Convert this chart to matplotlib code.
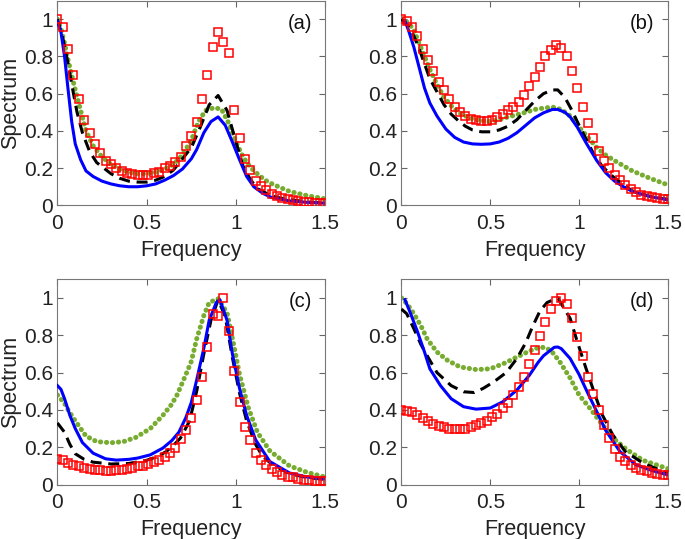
import numpy as np
import matplotlib
matplotlib.use("Agg")
import matplotlib.pyplot as plt

plt.rcParams["font.family"] = ["Liberation Sans", "DejaVu Sans"]

# squares are sampled every 0.03 from 0 to 1.5
freq_sq = np.linspace(0, 1.5, 51)

# ---- panel (a)
a_sq = [1.00, 0.96, 0.84, 0.70, 0.57, 0.46, 0.39, 0.33, 0.28, 0.24, 0.22, 0.20, 0.185,
        0.175, 0.17, 0.165, 0.165, 0.165, 0.175, 0.18, 0.20, 0.21, 0.235, 0.26, 0.32,
        0.37, 0.45, 0.57, 0.70, 0.85, 0.93, 0.88, 0.82, 0.51, 0.36, 0.25, 0.19, 0.13,
        0.105, 0.08, 0.06, 0.05, 0.04, 0.035, 0.03, 0.025, 0.02, 0.018, 0.015, 0.012, 0.01]
a_blue_f = [0.0, 0.02, 0.04, 0.06, 0.08, 0.10, 0.13, 0.16, 0.20, 0.25, 0.30, 0.35, 0.40,
            0.45, 0.50, 0.55, 0.60, 0.65, 0.70, 0.75, 0.78, 0.82, 0.86, 0.90, 0.94, 0.98,
            1.02, 1.06, 1.10, 1.15, 1.20, 1.30, 1.40, 1.50]
a_blue = [0.99, 0.93, 0.80, 0.62, 0.45, 0.33, 0.245, 0.185, 0.155, 0.13, 0.115, 0.105, 0.10,
          0.10, 0.105, 0.115, 0.135, 0.16, 0.195, 0.25, 0.30, 0.39, 0.45, 0.475, 0.43, 0.34,
          0.245, 0.155, 0.10, 0.065, 0.042, 0.024, 0.016, 0.012]
a_black_f = [0.0, 0.03, 0.06, 0.09, 0.11, 0.14, 0.18, 0.22, 0.26, 0.30, 0.35, 0.40, 0.45,
             0.50, 0.55, 0.60, 0.65, 0.70, 0.75, 0.80, 0.85, 0.90, 0.95, 1.00, 1.04, 1.08,
             1.12, 1.20, 1.27, 1.40, 1.50]
a_black = [1.00, 0.90, 0.76, 0.60, 0.50, 0.39, 0.29, 0.23, 0.20, 0.17, 0.145, 0.13, 0.125,
           0.125, 0.135, 0.155, 0.19, 0.25, 0.31, 0.42, 0.54, 0.59, 0.51, 0.34, 0.21, 0.14,
           0.09, 0.05, 0.035, 0.018, 0.012]
a_green_f = [0.0, 0.02, 0.04, 0.06, 0.08, 0.10, 0.13, 0.16, 0.20, 0.25, 0.30, 0.35, 0.40,
             0.45, 0.50, 0.55, 0.60, 0.65, 0.70, 0.75, 0.79, 0.83, 0.88, 0.92, 0.96, 1.00,
             1.04, 1.08, 1.13, 1.18, 1.25, 1.30, 1.40, 1.50]
a_green = [1.00, 0.95, 0.87, 0.78, 0.70, 0.62, 0.51, 0.40, 0.32, 0.26, 0.22, 0.195, 0.178,
           0.17, 0.17, 0.178, 0.195, 0.22, 0.27, 0.35, 0.45, 0.51, 0.525, 0.515, 0.44, 0.34,
           0.26, 0.205, 0.16, 0.125, 0.095, 0.075, 0.052, 0.035]

# ---- panel (b)
b_sq = [1.00, 0.99, 0.96, 0.91, 0.84, 0.78, 0.72, 0.665, 0.62, 0.57, 0.53, 0.50, 0.48,
        0.465, 0.457, 0.453, 0.455, 0.46, 0.475, 0.49, 0.51, 0.53, 0.555, 0.595, 0.64,
        0.69, 0.745, 0.80, 0.835, 0.86, 0.845, 0.80, 0.72, 0.63, 0.53, 0.44, 0.36, 0.29,
        0.24, 0.20, 0.165, 0.135, 0.11, 0.087, 0.07, 0.058, 0.048, 0.043, 0.038, 0.035, 0.033]
b_blue_f = [0.02, 0.04, 0.07, 0.10, 0.13, 0.16, 0.20, 0.25, 0.30, 0.35, 0.40, 0.45, 0.50,
            0.55, 0.60, 0.65, 0.70, 0.75, 0.80, 0.85, 0.88, 0.92, 0.95, 0.99, 1.04, 1.10,
            1.15, 1.20, 1.25, 1.30, 1.40, 1.50]
b_blue = [0.99, 0.94, 0.85, 0.74, 0.63, 0.55, 0.48, 0.41, 0.365, 0.34, 0.33, 0.328, 0.33,
          0.34, 0.36, 0.39, 0.43, 0.47, 0.497, 0.515, 0.515, 0.50, 0.475, 0.42, 0.335, 0.24,
          0.175, 0.13, 0.10, 0.075, 0.047, 0.03]
b_black_f = [0.0, 0.04, 0.07, 0.10, 0.13, 0.16, 0.20, 0.24, 0.28, 0.32, 0.36, 0.40, 0.45,
             0.50, 0.55, 0.60, 0.65, 0.70, 0.75, 0.80, 0.85, 0.88, 0.92, 0.96, 1.00, 1.04,
             1.08, 1.13, 1.19, 1.25, 1.30, 1.40, 1.50]
b_black = [1.00, 0.96, 0.91, 0.84, 0.76, 0.68, 0.61, 0.54, 0.49, 0.455, 0.425, 0.405, 0.395,
           0.395, 0.405, 0.425, 0.46, 0.51, 0.56, 0.60, 0.62, 0.62, 0.58, 0.51, 0.43, 0.355,
           0.28, 0.21, 0.155, 0.11, 0.078, 0.048, 0.032]
b_green_f = [0.0, 0.04, 0.07, 0.10, 0.13, 0.16, 0.20, 0.24, 0.28, 0.32, 0.36, 0.40, 0.45,
             0.50, 0.55, 0.60, 0.65, 0.70, 0.75, 0.80, 0.85, 0.90, 0.95, 1.00, 1.05, 1.10,
             1.15, 1.20, 1.30, 1.40, 1.50]
b_green = [1.00, 0.98, 0.94, 0.87, 0.80, 0.73, 0.65, 0.58, 0.535, 0.50, 0.48, 0.465, 0.455,
           0.45, 0.46, 0.475, 0.487, 0.50, 0.515, 0.522, 0.528, 0.515, 0.48, 0.42, 0.365,
           0.31, 0.27, 0.24, 0.185, 0.145, 0.11]

# ---- panel (c)
c_sq = [0.135, 0.13, 0.118, 0.106, 0.097, 0.088, 0.083, 0.079, 0.077, 0.075, 0.075, 0.077,
        0.079, 0.086, 0.091, 0.097, 0.102, 0.109, 0.119, 0.132, 0.15, 0.168, 0.196, 0.244,
        0.292, 0.358, 0.452, 0.577, 0.737, 0.915, 0.905, 1.00, 0.82, 0.61, 0.44, 0.31,
        0.24, 0.168, 0.132, 0.106, 0.084, 0.066, 0.052, 0.043, 0.038, 0.031, 0.027, 0.024,
        0.02, 0.018, 0.018]
c_blue_f = [0.0, 0.02, 0.04, 0.07, 0.10, 0.14, 0.20, 0.27, 0.33, 0.40, 0.45, 0.52, 0.59,
            0.64, 0.68, 0.72, 0.75, 0.78, 0.82, 0.85, 0.89, 0.91, 0.95, 0.98, 1.02, 1.06,
            1.11, 1.19, 1.30, 1.40, 1.50]
c_blue = [0.53, 0.51, 0.46, 0.37, 0.30, 0.225, 0.168, 0.138, 0.131, 0.135, 0.142, 0.159,
          0.195, 0.235, 0.28, 0.36, 0.44, 0.56, 0.73, 0.88, 0.975, 0.99, 0.88, 0.70, 0.515,
          0.37, 0.24, 0.123, 0.062, 0.04, 0.03]
c_black_f = [0.0, 0.04, 0.07, 0.10, 0.15, 0.20, 0.30, 0.40, 0.50, 0.56, 0.61, 0.66, 0.69,
             0.74, 0.78, 0.82, 0.86, 0.90, 0.94, 0.98, 1.02, 1.06, 1.11, 1.15, 1.20, 1.30,
             1.40, 1.50]
c_black = [0.33, 0.28, 0.215, 0.165, 0.135, 0.12, 0.11, 0.113, 0.13, 0.15, 0.177, 0.22, 0.25,
           0.34, 0.50, 0.70, 0.88, 0.99, 0.90, 0.68, 0.49, 0.34, 0.215, 0.15, 0.11, 0.058,
           0.037, 0.028]
c_green_f = [0.0, 0.04, 0.06, 0.09, 0.13, 0.16, 0.22, 0.30, 0.37, 0.44, 0.52, 0.59, 0.64,
             0.67, 0.72, 0.75, 0.78, 0.82, 0.85, 0.90, 0.95, 0.985, 1.02, 1.07, 1.12, 1.19,
             1.30, 1.40, 1.50]
c_green = [0.48, 0.435, 0.40, 0.355, 0.30, 0.26, 0.23, 0.224, 0.23, 0.253, 0.30, 0.37, 0.43,
           0.48, 0.59, 0.66, 0.78, 0.905, 0.975, 0.995, 0.92, 0.76, 0.59, 0.41, 0.28, 0.18,
           0.10, 0.065, 0.04]

# ---- panel (d)
d_sq = [0.40, 0.395, 0.387, 0.372, 0.358, 0.342, 0.326, 0.314, 0.307, 0.30, 0.297, 0.298,
        0.30, 0.307, 0.318, 0.33, 0.343, 0.36, 0.38, 0.41, 0.437, 0.48, 0.525, 0.575, 0.645,
        0.72, 0.795, 0.87, 0.94, 0.985, 1.00, 0.965, 0.89, 0.79, 0.687, 0.577, 0.484, 0.40,
        0.32, 0.25, 0.19, 0.15, 0.125, 0.103, 0.088, 0.079, 0.07, 0.063, 0.058, 0.053, 0.05]
d_blue_f = [0.02, 0.05, 0.09, 0.13, 0.16, 0.22, 0.28, 0.35, 0.42, 0.50, 0.57, 0.65, 0.72,
            0.77, 0.80, 0.86, 0.88, 0.90, 0.95, 1.00, 1.05, 1.10, 1.15, 1.23, 1.32, 1.41, 1.50]
d_blue = [0.99, 0.92, 0.82, 0.71, 0.62, 0.53, 0.46, 0.417, 0.404, 0.41, 0.443, 0.506, 0.585,
          0.655, 0.69, 0.735, 0.737, 0.728, 0.675, 0.59, 0.488, 0.39, 0.29, 0.177, 0.106,
          0.075, 0.052]
d_black_f = [0.0, 0.03, 0.07, 0.11, 0.145, 0.20, 0.28, 0.35, 0.41, 0.46, 0.52, 0.59, 0.65,
             0.70, 0.74, 0.78, 0.82, 0.88, 0.95, 0.99, 1.04, 1.09, 1.13, 1.19, 1.26, 1.36, 1.50]
d_black = [0.94, 0.915, 0.835, 0.75, 0.69, 0.60, 0.53, 0.497, 0.493, 0.515, 0.55, 0.60, 0.675,
           0.76, 0.85, 0.93, 0.975, 1.00, 0.89, 0.765, 0.62, 0.48, 0.375, 0.266, 0.177, 0.115,
           0.06]
d_green_f = [0.0, 0.03, 0.07, 0.11, 0.145, 0.20, 0.26, 0.33, 0.42, 0.50, 0.58, 0.67, 0.72,
             0.76, 0.80, 0.84, 0.89, 0.95, 1.00, 1.06, 1.12, 1.19, 1.27, 1.36, 1.50]
d_green = [1.00, 0.97, 0.915, 0.85, 0.78, 0.71, 0.665, 0.63, 0.616, 0.62, 0.65, 0.692, 0.715,
           0.73, 0.735, 0.72, 0.66, 0.57, 0.48, 0.41, 0.335, 0.25, 0.186, 0.13, 0.085]

panels = [
    ("(a)", a_sq, a_blue_f, a_blue, a_black_f, a_black, a_green_f, a_green),
    ("(b)", b_sq, b_blue_f, b_blue, b_black_f, b_black, b_green_f, b_green),
    ("(c)", c_sq, c_blue_f, c_blue, c_black_f, c_black, c_green_f, c_green),
    ("(d)", d_sq, d_blue_f, d_blue, d_black_f, d_black, d_green_f, d_green),
]
positions = [
    [0.0838, 0.619, 0.391, 0.380],
    [0.5860, 0.619, 0.389, 0.380],
    [0.0838, 0.101, 0.391, 0.381],
    [0.5860, 0.101, 0.389, 0.381],
]

fig = plt.figure(figsize=(6.85, 5.39), dpi=100)
for i, (tag, sq, bf, bl, kf, kl, gf, gl) in enumerate(panels):
    ax = fig.add_axes(positions[i])
    ax.plot(gf, gl, color="#77AC30", lw=3.6, linestyle=(0, (0.05, 1.15)),
            dash_capstyle="round", zorder=2)
    ax.plot(kf, kl, color="black", lw=2.2, dashes=(3.6, 2.2), zorder=3)
    ax.plot(bf, bl, color="#0000FF", lw=2.2, zorder=4)
    ax.plot(freq_sq, sq, linestyle="none", marker="s", ms=5.5, mfc="none",
            mec="#FF0000", mew=1.1, zorder=5)
    ax.set_xlim(0, 1.5)
    ax.set_ylim(0, 1.1)
    ax.set_xticks([0, 0.5, 1, 1.5])
    ax.set_xticklabels(["0", "0.5", "1", "1.5"])
    ax.set_yticks([0, 0.2, 0.4, 0.6, 0.8, 1])
    ax.set_yticklabels(["0", "0.2", "0.4", "0.6", "0.8", "1"])
    ax.tick_params(direction="in", top=True, right=True, length=4, width=0.8,
                   labelsize=15, colors="#666666", labelcolor="#222222")
    ax.tick_params(axis="x", pad=6)
    ax.tick_params(axis="y", pad=3)
    for s in ax.spines.values():
        s.set_color("#777777")
        s.set_linewidth(0.8)
    ax.set_xlabel("Frequency", fontsize=15.5, color="#222222", labelpad=5)
    if i % 2 == 0:
        ax.set_ylabel("Spectrum", fontsize=15.5, color="#222222", labelpad=2)
    ax.text(0.95, 0.89, tag, transform=ax.transAxes, ha="right", va="center",
            fontsize=14.5, color="#111111")

fig.savefig("out.png", dpi=100)
